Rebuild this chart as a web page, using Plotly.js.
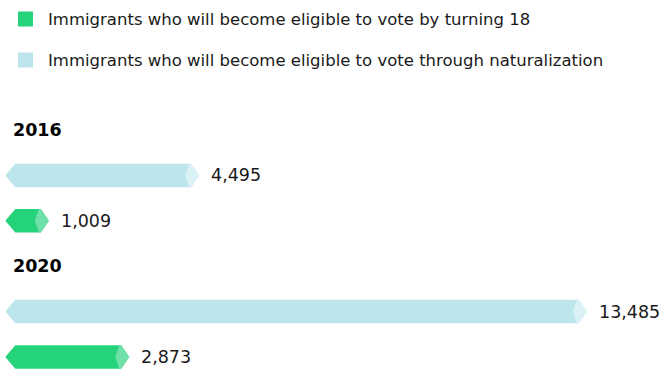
<!DOCTYPE html>
<html><head><meta charset="utf-8">
<script src="https://cdn.plot.ly/plotly-3.0.1.min.js"></script>
<style>html,body{margin:0;padding:0;background:#fff}</style>
</head><body><div id="chart" style="width:672px;height:370px"></div>
<script>
// ---- data ----
const years = ['2016', '2020'];
const seriesNames = [
  'Immigrants who will become eligible to vote by turning 18',
  'Immigrants who will become eligible to vote through naturalization'
];
const turning18 = [1009, 2873];
const naturalization = [4495, 13485];

// ---- styles ----
const greenMain = '#25D37B', greenTip = '#6FE0A8';
const blueMain = '#BCE6EC', blueTip = '#DAF2F5';
const FONT = 'DejaVu Sans';

const W = 672, H = 370;
const xRange = [-123, 15460];
const yRange = [5.287, -2.863];
const pxX = n => n * (xRange[1] - xRange[0]) / W;
const pxY = n => n * (yRange[0] - yRange[1]) / H;
const halfH = pxY(11.75);

const traces = [];
const annotations = [];
const shapes = [];

function addBar(v, c, main, tip) {
  traces.push({
    type: 'scatter', mode: 'lines', fill: 'toself', fillcolor: main,
    line: {width: 0, color: main}, hoverinfo: 'skip',
    x: [0, pxX(10), v - pxX(8), v, v - pxX(8), pxX(10), 0],
    y: [c, c - halfH, c - halfH, c, c + halfH, c + halfH, c]
  });
  traces.push({
    type: 'scatter', mode: 'lines', fill: 'toself', fillcolor: tip,
    line: {width: 0, color: tip}, hoverinfo: 'skip',
    x: [v - pxX(14), v - pxX(10), v - pxX(8), v, v - pxX(8), v - pxX(10), v - pxX(14)],
    y: [c, c - halfH, c - halfH, c, c + halfH, c + halfH, c]
  });
  annotations.push({
    x: v, y: c, xref: 'x', yref: 'y', xanchor: 'left', yanchor: 'middle',
    xshift: 10, showarrow: false, text: v.toLocaleString('en-US'),
    font: {family: FONT, size: 17.5, color: '#1a1a1a'}
  });
}

years.forEach((yr, g) => {
  const base = g * 3;
  annotations.push({
    x: 11 / W, y: base, xref: 'paper', yref: 'y', xanchor: 'left', yanchor: 'middle',
    showarrow: false, text: '<b>' + yr + '</b>',
    font: {family: FONT, size: 17.5, color: '#000'}
  });
  addBar(naturalization[g], base + 1, blueMain, blueTip);
  addBar(turning18[g], base + 2, greenMain, greenTip);
});

// legend
const legendColors = [greenMain, blueMain];
const legendY = [19, 60];
seriesNames.forEach((name, i) => {
  const cy = legendY[i];
  shapes.push({
    type: 'rect', xref: 'paper', yref: 'paper', line: {width: 0}, fillcolor: legendColors[i],
    x0: 18 / W, x1: 33 / W, y0: 1 - (cy + 7.5) / H, y1: 1 - (cy - 7.5) / H
  });
  annotations.push({
    x: 46 / W, y: 1 - cy / H, xref: 'paper', yref: 'paper', xanchor: 'left', yanchor: 'middle',
    showarrow: false, text: name, font: {family: FONT, size: 16.5, color: '#1a1a1a'}
  });
});

const layout = {
  width: W, height: H,
  margin: {l: 0, r: 0, t: 0, b: 0},
  paper_bgcolor: '#fff', plot_bgcolor: '#fff',
  showlegend: false,
  xaxis: {range: xRange, visible: false, fixedrange: true},
  yaxis: {range: yRange, visible: false, fixedrange: true},
  annotations: annotations, shapes: shapes
};

Plotly.newPlot('chart', traces, layout, {staticPlot: true, displayModeBar: false});
</script>
</body></html>
